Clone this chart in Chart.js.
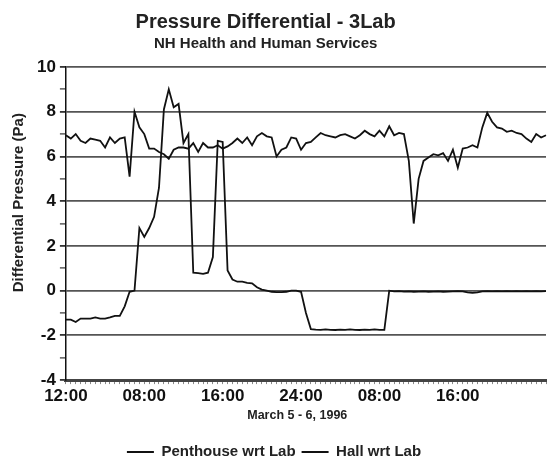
<!DOCTYPE html>
<html>
<head>
<meta charset="utf-8">
<script src="https://cdn.jsdelivr.net/npm/chart.js@4.4.1/dist/chart.umd.min.js"></script>
<style>
  html, body { margin: 0; padding: 0; background: #fff; }
  #wrap { width: 548px; height: 459px; position: relative; }
</style>
</head>
<body>
<div id="wrap"><canvas id="chart"></canvas></div>
<script>
// half-hour samples, March 5 - 6, 1996
const tickLabels = ['12:00', '08:00', '16:00', '24:00', '08:00', '16:00'];
const samplesPerTick = 16;

const penthouse = [
  -1.3, -1.3, -1.4, -1.25, -1.25, -1.25, -1.2, -1.25, -1.25, -1.2,
  -1.13, -1.13, -0.7, -0.05, 0.0, 2.8, 2.4, 2.8, 3.3, 4.6,
  8.1, 9.0, 8.2, 8.35, 6.6, 7.0, 0.8, 0.78, 0.75, 0.8,
  1.5, 6.7, 6.65, 0.9, 0.5, 0.4, 0.4, 0.35, 0.33, 0.15,
  0.05, 0.0, -0.05, -0.07, -0.07, -0.05, 0.0, 0.0, -0.05, -1.0,
  -1.72, -1.74, -1.75, -1.73, -1.75, -1.76, -1.74, -1.75, -1.73, -1.75,
  -1.76, -1.74, -1.75, -1.73, -1.75, -1.75, 0.0, -0.03, -0.02, -0.04,
  -0.03, -0.05, -0.04, -0.03, -0.05, -0.04, -0.03, -0.05, -0.04, -0.03,
  -0.02, -0.03, -0.08, -0.1, -0.08, -0.03, -0.02, -0.03, -0.02, -0.03,
  -0.02, -0.03, -0.02, -0.03, -0.02, -0.03, -0.02, -0.03, -0.02
];

const hall = [
  6.95, 6.8, 7.0, 6.7, 6.6, 6.8, 6.75, 6.7, 6.4, 6.85,
  6.6, 6.8, 6.85, 5.1, 8.0, 7.3, 7.0, 6.35, 6.35, 6.2,
  6.1, 5.9, 6.3, 6.4, 6.4, 6.35, 6.6, 6.2, 6.6, 6.4,
  6.4, 6.5, 6.35, 6.45, 6.6, 6.8, 6.6, 6.85, 6.5, 6.9,
  7.05, 6.9, 6.85, 6.0, 6.3, 6.4, 6.85, 6.8, 6.3, 6.6,
  6.65, 6.85, 7.05, 6.95, 6.9, 6.85, 6.95, 7.0, 6.9, 6.8,
  6.95, 7.15, 7.0, 6.9, 7.15, 6.9, 7.35, 6.95, 7.05, 7.0,
  5.8, 3.0, 5.0, 5.8, 5.95, 6.1, 6.05, 6.15, 5.8, 6.3,
  5.5, 6.35, 6.4, 6.5, 6.4, 7.3, 7.95, 7.55, 7.3, 7.25,
  7.1, 7.15, 7.05, 7.0, 6.8, 6.65, 7.0, 6.85, 6.95
];

const yTicks = { min: -4, max: 10, step: 2, minorStep: 1 };

const font = 'Liberation Sans, Arial, sans-serif';
const labels = hall.map((v, i) => i);

const isMajor = (v) => Math.round(v) % yTicks.step === 0;

const config = {
  type: 'line',
  data: {
    labels: labels,
    datasets: [
      {
        label: 'Penthouse wrt Lab',
        data: penthouse,
        borderColor: '#111',
        backgroundColor: '#111',
        borderWidth: 1.8,
        pointRadius: 0,
        tension: 0
      },
      {
        label: 'Hall wrt Lab',
        data: hall,
        borderColor: '#111',
        backgroundColor: '#111',
        borderWidth: 1.8,
        pointRadius: 0,
        tension: 0
      }
    ]
  },
  options: {
    responsive: true,
    maintainAspectRatio: false,
    animation: false,
    layout: { padding: { left: 0, right: 0, top: 0, bottom: -10.5 } },
    plugins: {
      title: {
        display: true,
        text: 'Pressure Differential - 3Lab   ',
        color: '#222',
        font: { family: font, size: 20, weight: 'bold' },
        padding: { top: 10, bottom: 1 }
      },
      subtitle: {
        display: true,
        text: 'NH Health and Human Services    ',
        color: '#222',
        font: { family: font, size: 15, weight: 'bold' },
        padding: { top: 0, bottom: 14 }
      },
      legend: {
        position: 'bottom',
        labels: {
          color: '#222',
          font: { family: font, size: 15, weight: 'bold' },
          boxWidth: 27,
          boxHeight: 0,
          padding: 6
        }
      },
      tooltip: { enabled: false }
    },
    scales: {
      x: {
        type: 'category',
        offset: false,
        border: { display: true, color: '#444', width: 3 },
        grid: {
          drawOnChartArea: false,
          drawTicks: true,
          tickLength: 4,
          color: '#888',
          lineWidth: 1
        },
        ticks: {
          autoSkip: false,
          maxRotation: 0,
          minRotation: 0,
          padding: 2,
          color: '#111',
          font: { family: font, size: 17, weight: 'bold' },
          callback: function (val, i) {
            if (i % samplesPerTick !== 0) return '';
            return tickLabels[i / samplesPerTick] || '';
          }
        },
        title: {
          display: true,
          text: 'March 5 - 6, 1996     ',
          color: '#222',
          font: { family: font, size: 12.5, weight: 'bold' },
          padding: { top: 0, bottom: 15 }
        }
      },
      y: {
        min: yTicks.min,
        max: yTicks.max,
        border: { display: true, color: '#111', width: 1.5 },
        grid: {
          color: (ctx) => isMajor(ctx.tick.value) ? '#555' : 'rgba(0,0,0,0)',
          tickColor: '#333',
          lineWidth: 1.8,
          tickWidth: (ctx) => isMajor(ctx.tick.value) ? 1.8 : 1.2,
          tickLength: 6,
          drawTicks: true
        },
        ticks: {
          stepSize: yTicks.minorStep,
          autoSkip: false,
          padding: 4,
          color: '#111',
          font: { family: font, size: 17, weight: 'bold' },
          callback: (v) => isMajor(v) ? v : ''
        },
        title: {
          display: true,
          text: '          Differential Pressure (Pa)',
          color: '#222',
          font: { family: font, size: 15, weight: 'bold' },
          padding: { top: 10, bottom: 5 }
        }
      }
    }
  }
};

new Chart(document.getElementById('chart'), config);
</script>
</body>
</html>
